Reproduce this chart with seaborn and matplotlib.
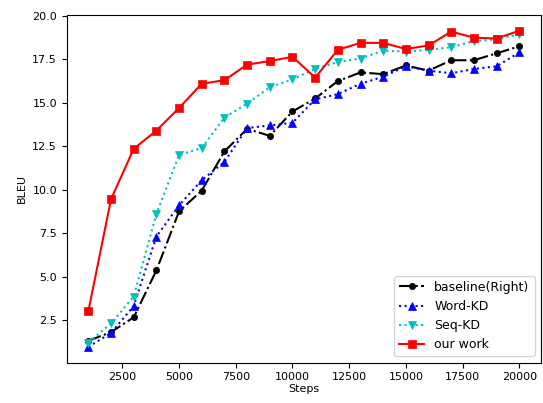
import seaborn as sns
import matplotlib.pyplot as plt

steps = [1000, 2000, 3000, 4000, 5000, 6000, 7000, 8000, 9000, 10000,
         11000, 12000, 13000, 14000, 15000, 16000, 17000, 18000, 19000, 20000]

baseline = [1.3, 1.8, 2.65, 5.35, 8.75, 9.95, 12.2, 13.5, 13.1, 14.5,
            15.25, 16.25, 16.75, 16.65, 17.15, 16.85, 17.45, 17.45, 17.85, 18.25]
word_kd = [0.95, 1.75, 3.3, 7.3, 9.1, 10.55, 11.6, 13.55, 13.7, 13.85,
           15.2, 15.5, 16.1, 16.5, 17.1, 16.85, 16.7, 16.95, 17.1, 17.9]
seq_kd = [1.2, 2.3, 3.85, 8.6, 12.0, 12.4, 14.15, 14.95, 15.9, 16.35,
          16.95, 17.35, 17.55, 18.0, 17.95, 18.05, 18.2, 18.55, 18.65, 18.95]
our_work = [3.0, 9.45, 12.35, 13.4, 14.7, 16.1, 16.3, 17.2, 17.4, 17.65,
            16.45, 18.05, 18.45, 18.45, 18.1, 18.3, 19.1, 18.75, 18.7, 19.15]

plt.rcParams['font.size'] = 8

fig, ax = plt.subplots(figsize=(5.43, 4.03), dpi=100)
fig.subplots_adjust(left=0.123, right=0.996, top=0.963, bottom=0.1)

series = [
    (baseline, 'baseline(Right)', 'black', '-.', 'o', 4.5),
    (word_kd, 'Word-KD', 'blue', ':', '^', 5.5),
    (seq_kd, 'Seq-KD', 'c', ':', 'v', 5.5),
    (our_work, 'our work', 'red', '-', 's', 5.5),
]
for vals, name, col, ls, mk, ms in series:
    sns.lineplot(x=steps, y=vals, ax=ax, color=col, linestyle=ls,
                 marker=mk, markersize=ms, markeredgecolor=col,
                 markeredgewidth=0.5, label=name)

ax.set_xlabel("Steps", labelpad=1)
ax.set_ylabel("BLEU")
ax.legend(loc='lower right', fontsize=9)

plt.savefig("out.png")
